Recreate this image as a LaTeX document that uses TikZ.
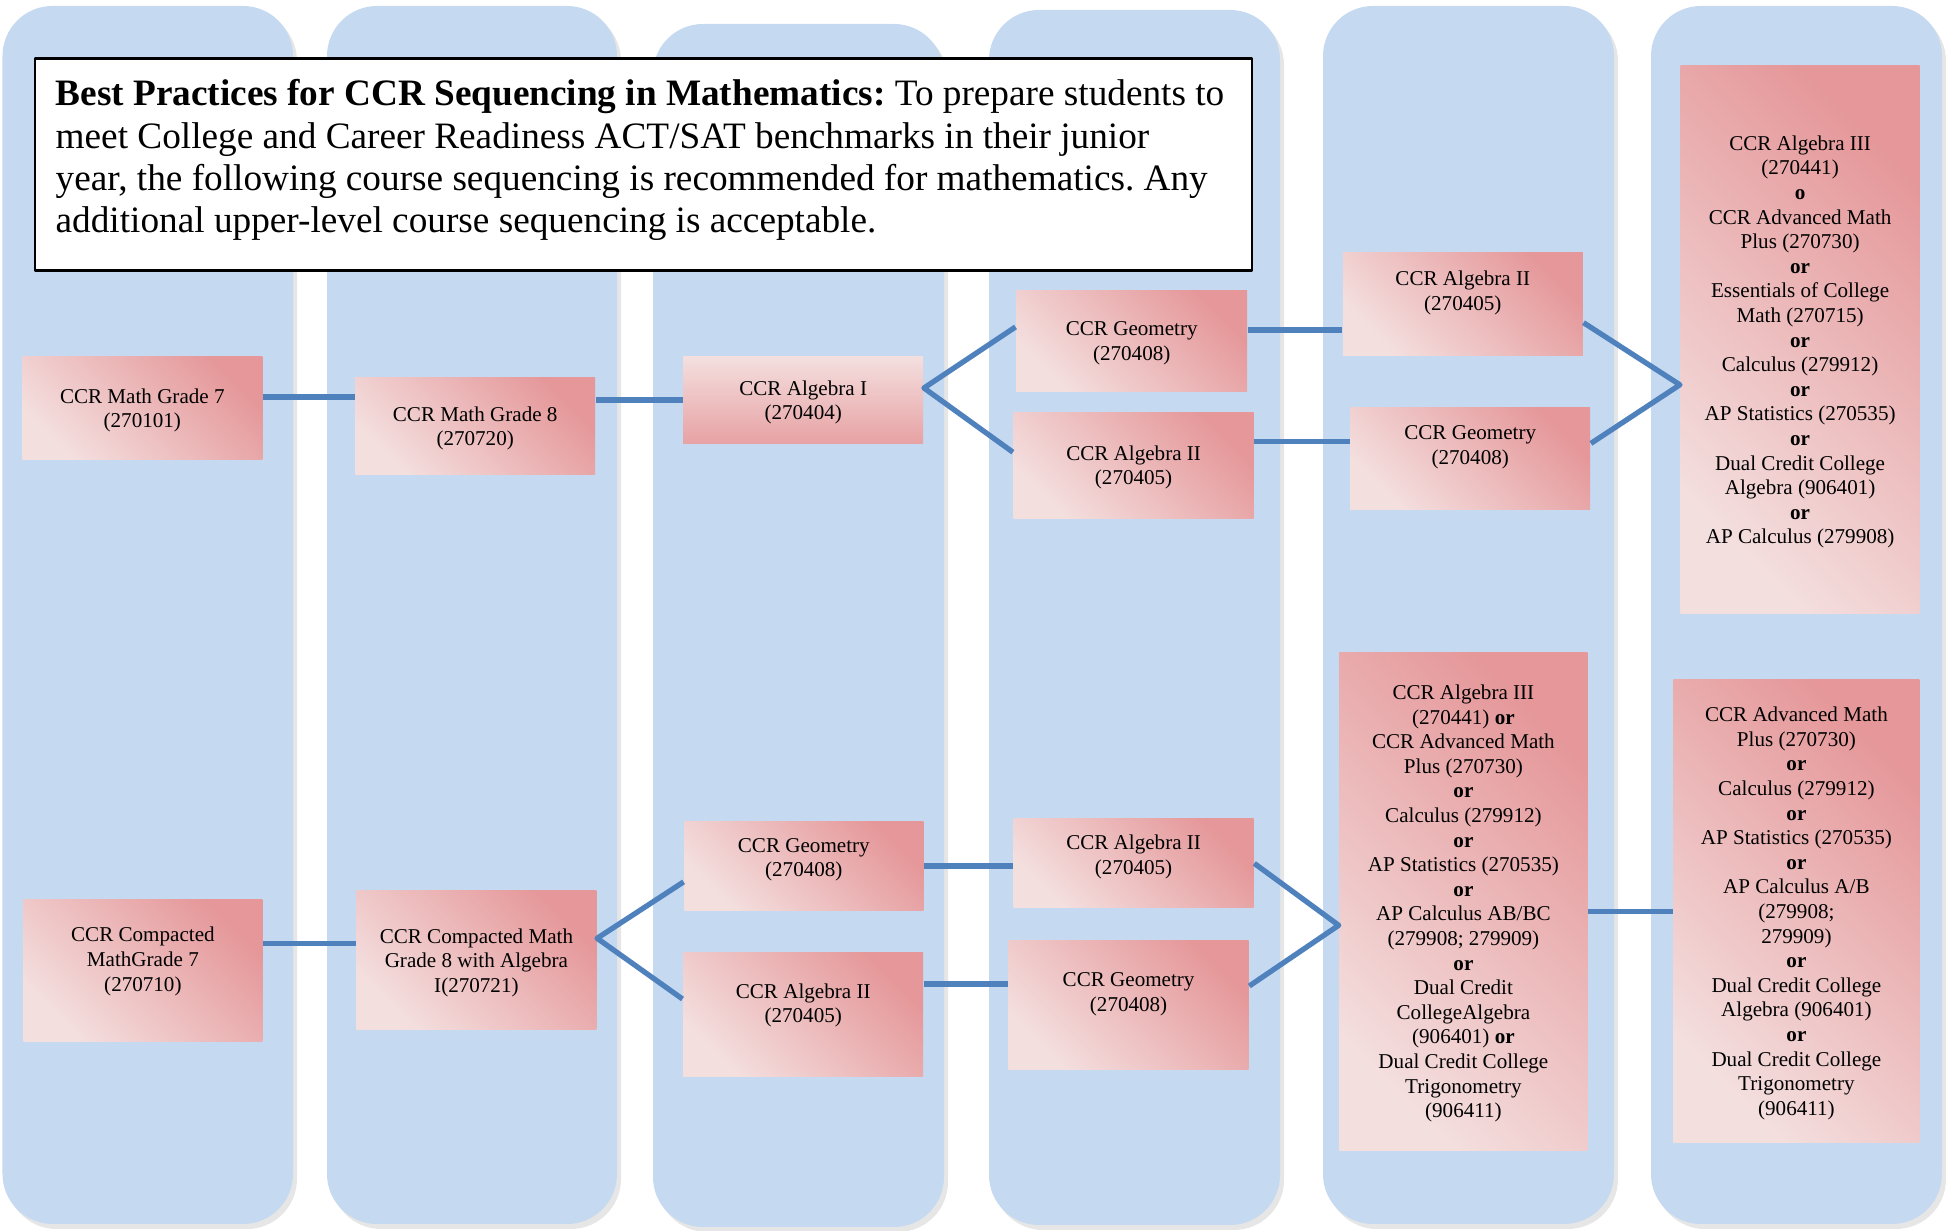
\documentclass[tikz,border=0pt]{standalone}
\usepackage{fontspec}
\setmainfont{Liberation Serif}
\usepackage{tikz}
\usetikzlibrary{
    shadows,
    calc,
    positioning,
}
\definecolor{laneBlue}{RGB}{197,217,241}
\definecolor{linkBlue}{RGB}{79,129,189}
\definecolor{pinkLight}{RGB}{244,223,223}
\definecolor{pinkDark}{RGB}{229,151,153}

\begin{document}
\frenchspacing
\begin{tikzpicture}[line join=round]

    \tikzstyle{lane}=[fill=laneBlue, rounded corners=5mm, drop shadow={shadow xshift=0.4mm, shadow yshift=-0.5mm, opacity=0.2}]
    \tikzstyle{course}=[rectangle, align=center, inner sep=0.5mm, text depth=0pt, font=\fontsize{6}{7}\selectfont, top color=pinkDark, bottom color=pinkLight, shading angle=-45]
    \tikzstyle{flatCourse}=[course, top color=pinkLight, bottom color=pinkDark!85!pinkLight, shading angle=0]
    \tikzstyle{lift}=[text depth=#1]
    \tikzstyle{link}=[draw=linkBlue, line width=1.5pt]
    \tikzstyle{titleBox}=[rectangle, draw=black, line width=0.7pt, fill=white, minimum width=12.17cm, minimum height=2.12cm]

    \useasboundingbox (0,0) rectangle (19.48,-12.31);

    % Lanes
    \fill[lane] (0.025,-0.06) rectangle (2.93,-12.24);
    \fill[lane] (3.27,-0.06) rectangle (6.17,-12.24);
    \fill[lane] (6.53,-0.24) rectangle (9.44,-12.27);
    \fill[lane] (9.89,-0.10) rectangle (12.80,-12.25);
    \fill[lane] (13.23,-0.06) rectangle (16.14,-12.24);
    \fill[lane] (16.51,-0.06) rectangle (19.42,-12.24);

    % Title
    \node at (6.435,-1.644) [titleBox] (title) {};
    \node at (0.55,-0.79) [anchor=north west, inner sep=0pt, align=left, font=\fontsize{10.6}{12}\selectfont] (titleText)
        {\textbf{Best Practices for CCR Sequencing in Mathematics:} To prepare students to\\
         meet College and Career Readiness ACT/SAT benchmarks in their junior\\
         year, the following course sequencing is recommended for mathematics. Any\\
         additional upper-level course sequencing is acceptable.};

    % Regular track
    \node at (1.423,-4.081)  [course, minimum width=2.40cm, minimum height=1.03cm] (g7)    {CCR Math Grade 7\\(270101)};
    \node at (4.752,-4.261)  [course, minimum width=2.40cm, minimum height=0.97cm] (g8)    {CCR Math Grade 8\\(270720)};
    \node at (8.032,-4.000)  [flatCourse, minimum width=2.40cm, minimum height=0.87cm] (alg1) {CCR Algebra I\\(270404)};
    \node at (11.317,-3.410) [course, minimum width=2.31cm, minimum height=1.01cm] (geo)   {CCR Geometry\\(270408)};
    \node at (11.336,-4.652) [course, minimum width=2.40cm, minimum height=1.06cm] (alg2)  {CCR Algebra II\\(270405)};
    \node at (14.628,-3.037) [course, lift=0.26cm, minimum width=2.40cm, minimum height=1.03cm] (alg2b) {CCR Algebra II\\(270405)};
    \node at (14.702,-4.584) [course, lift=0.27cm, minimum width=2.40cm, minimum height=1.02cm] (geob)  {CCR Geometry\\(270408)};
    \node at (18.001,-3.398) [course, minimum width=2.39cm, minimum height=5.48cm] (big6)
        {CCR Algebra III\\(270441)\\\textbf{o}\\CCR Advanced Math\\Plus (270730)\\\textbf{or}\\Essentials of College\\Math (270715)\\\textbf{or}\\Calculus (279912)\\\textbf{or}\\AP Statistics (270535)\\\textbf{or}\\Dual Credit College\\Algebra (906401)\\\textbf{or}\\AP Calculus (279908)};

    % Compacted track
    \node at (1.429,-9.702)  [course, lift=0.22cm, minimum width=2.39cm, minimum height=1.42cm] (cg7)  {CCR Compacted\\MathGrade 7\\(270710)};
    \node at (4.764,-9.603)  [course, minimum width=2.40cm, minimum height=1.39cm] (cg8)   {CCR Compacted Math\\Grade 8 with Algebra\\I(270721)};
    \node at (8.038,-8.659)  [course, lift=0.17cm, minimum width=2.39cm, minimum height=0.89cm] (geoc)  {CCR Geometry\\(270408)};
    \node at (8.032,-10.150) [course, lift=0.24cm, minimum width=2.40cm, minimum height=1.24cm] (alg2c) {CCR Algebra II\\(270405)};
    \node at (11.336,-8.634) [course, lift=0.17cm, minimum width=2.40cm, minimum height=0.89cm] (alg2d) {CCR Algebra II\\(270405)};
    \node at (11.286,-10.050)[course, lift=0.26cm, minimum width=2.40cm, minimum height=1.29cm] (geod)  {CCR Geometry\\(270408)};
    \node at (14.634,-9.013) [course, minimum width=2.48cm, minimum height=4.98cm] (big5)
        {CCR Algebra III\\(270441) \textbf{or}\\CCR Advanced Math\\Plus (270730)\\\textbf{or}\\Calculus (279912)\\\textbf{or}\\AP Statistics (270535)\\\textbf{or}\\AP Calculus AB/BC\\(279908; 279909)\\\textbf{or}\\Dual Credit\\CollegeAlgebra\\(906401) \textbf{or}\\Dual Credit College\\Trigonometry\\(906411)};
    \node at (17.964,-9.112) [course, minimum width=2.46cm, minimum height=4.63cm] (big6b)
        {CCR Advanced Math\\Plus (270730)\\\textbf{or}\\Calculus (279912)\\\textbf{or}\\AP Statistics (270535)\\\textbf{or}\\AP Calculus A/B\\(279908;\\279909)\\\textbf{or}\\Dual Credit College\\Algebra (906401)\\\textbf{or}\\Dual Credit College\\Trigonometry\\(906411)};

    % Connectors, regular track
    \draw [link] ([yshift=1.1mm]g7.east) coordinate (l1) -- (l1 -| g8.west);
    \draw [link] (alg1.west -| g8.east) -- (alg1.west);
    \draw [link] ([yshift=1.4mm]geo.west) -- ([yshift=1.2mm]alg1.east) -- ([yshift=1.3mm]alg2.west);
    \draw [link] ([yshift=1.1mm]geo.east) coordinate (l4) -- (l4 -| alg2b.west);
    \draw [link] ([yshift=2.4mm]alg2.east) coordinate (l5) -- (l5 -| geob.west);
    \draw [link] ([yshift=-1.9mm]alg2b.east) -- ([yshift=-4.5mm]big6.west) -- ([yshift=1.5mm]geob.east);

    % Connectors, compacted track
    \draw [link] ([yshift=2.7mm]cg7.east) coordinate (l7) -- (l7 -| cg8.west);
    \draw [link] ([yshift=-1.6mm]geoc.west) -- ([yshift=2.2mm]cg8.east) -- ([yshift=1.6mm]alg2c.west);
    \draw [link] (geoc.east) -- (geoc.east -| alg2d.west);
    \draw [link] ([yshift=3.1mm]alg2c.east) coordinate (l10) -- (l10 -| geod.west);
    \draw [link] (alg2d.east) -- ([yshift=-2.4mm]big5.west) -- ([yshift=1.9mm]geod.east);
    \draw [link] (big6b.west -| big5.east) -- (big6b.west);

\end{tikzpicture}
\end{document}
